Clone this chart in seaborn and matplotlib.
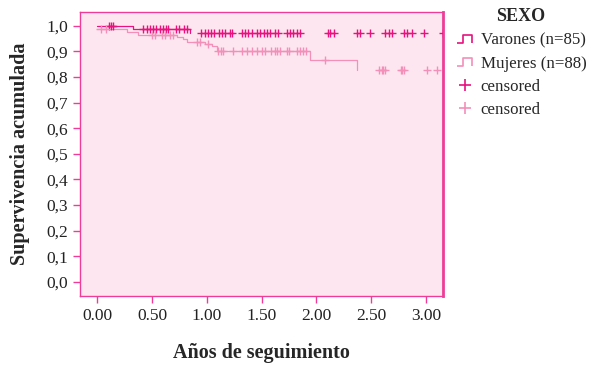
import matplotlib
matplotlib.use("Agg")
import matplotlib.pyplot as plt
from matplotlib.lines import Line2D
from matplotlib.path import Path
import seaborn as sns
import pandas as pd

DARK = "#e8117f"
LIGHT = "#f48fba"
FACE = "#fde6f0"
SPINE = "#ee3d98"

# Kaplan-Meier steps (time in years, cumulative survival)
var_time = [0.00, 0.325, 0.85]
var_surv = [1.000, 0.988, 0.972]
muj_time = [0.00, 0.27, 0.37, 0.73, 0.78, 0.82, 0.98, 1.05, 1.09, 1.94, 2.37]
muj_surv = [0.989, 0.977, 0.965, 0.955, 0.948, 0.938, 0.930, 0.920, 0.900, 0.866, 0.826]

# censored observations
var_cens_time = [0.11, 0.13, 0.145,
                 0.42, 0.45, 0.48, 0.51, 0.54, 0.57, 0.60, 0.63, 0.65, 0.72, 0.75, 0.79, 0.82,
                 0.95, 0.98, 1.01, 1.04, 1.07, 1.11, 1.14, 1.17, 1.21, 1.23, 1.32, 1.35, 1.38,
                 1.41, 1.46, 1.49, 1.52, 1.55, 1.58, 1.62, 1.65, 1.73, 1.76, 1.79, 1.82, 1.85,
                 2.11, 2.13, 2.16, 2.37, 2.40, 2.49, 2.63, 2.66, 2.69, 2.80, 2.83, 2.87, 2.98, 3.16]
var_cens_surv = [1.000] * 3 + [0.988] * 13 + [0.972] * 40
muj_cens_time = [0.03, 0.08,
                 0.50, 0.53, 0.59, 0.62, 0.66, 0.69,
                 0.91, 0.94, 1.01,
                 1.10, 1.13, 1.15, 1.24, 1.32, 1.37, 1.41, 1.46, 1.50, 1.53, 1.59, 1.62, 1.64,
                 1.67, 1.73, 1.75, 1.82, 1.85, 1.88, 1.91,
                 2.08,
                 2.57, 2.60, 2.61, 2.63, 2.77, 2.78, 2.80, 3.01, 3.10]
muj_cens_surv = [0.989] * 2 + [0.965] * 6 + [0.938] * 2 + [0.930] + [0.900] * 20 + [0.866] + [0.826] * 9

y_ticks = [0.0, 0.1, 0.2, 0.3, 0.4, 0.5, 0.6, 0.7, 0.8, 0.9, 1.0]
y_labels = ["0,0", "0,1", "0,2", "0,3", "0,4", "0,5", "0,6", "0,7", "0,8", "0,9", "1,0"]
x_ticks = [0.0, 0.5, 1.0, 1.5, 2.0, 2.5, 3.0]
x_labels = ["0.00", "0.50", "1.00", "1.50", "2.00", "2.50", "3.00"]

sns.set_style("ticks")
plt.rcParams["font.family"] = ["Liberation Serif", "DejaVu Serif"]
plt.rcParams["font.size"] = 12.5

steps = pd.concat([
    pd.DataFrame({"t": var_time, "s": var_surv, "SEXO": "Varones"}),
    pd.DataFrame({"t": muj_time, "s": muj_surv, "SEXO": "Mujeres"}),
])
cens = pd.concat([
    pd.DataFrame({"t": var_cens_time, "s": var_cens_surv, "SEXO": "Varones"}),
    pd.DataFrame({"t": muj_cens_time, "s": muj_cens_surv, "SEXO": "Mujeres"}),
])
pal = {"Varones": DARK, "Mujeres": LIGHT}

fig = plt.figure(figsize=(5.95, 3.66), dpi=100)
ax = fig.add_axes([0.134, 0.191, 0.611, 0.776])
ax.set_facecolor(FACE)

sns.lineplot(data=steps, x="t", y="s", hue="SEXO", palette=pal, estimator=None,
             sort=False, drawstyle="steps-post", linewidth=0.9, legend=False, ax=ax)
sns.scatterplot(data=cens, x="t", y="s", hue="SEXO", palette=pal, marker="+",
                s=34, linewidth=1.0, legend=False, ax=ax, zorder=3)

ax.set_xlim(-0.16, 3.16)
ax.set_ylim(-0.056, 1.0535)
ax.set_xticks(x_ticks)
ax.set_xticklabels(x_labels)
ax.set_yticks(y_ticks)
ax.set_yticklabels(y_labels)
ax.tick_params(colors=SPINE, labelcolor="#222222", length=5, width=1, labelsize=12.5)
for side in ax.spines:
    ax.spines[side].set_color(SPINE)
    ax.spines[side].set_linewidth(1.0)
ax.spines["right"].set_linewidth(2.0)

ax.set_xlabel("Años de seguimiento", fontweight="bold", fontsize=14.5, labelpad=14)
ax.set_ylabel("Supervivencia acumulada", fontweight="bold", fontsize=14.5, labelpad=12)

step_marker = Path([(-1.0, -0.5), (-0.2, -0.5), (-0.2, 0.5), (0.8, 0.5), (0.8, -0.5)])
handles = [
    Line2D([], [], linestyle="none", marker=step_marker, markersize=12,
           markerfacecolor="none", markeredgecolor=DARK, markeredgewidth=1.2),
    Line2D([], [], linestyle="none", marker=step_marker, markersize=12,
           markerfacecolor="none", markeredgecolor=LIGHT, markeredgewidth=1.2),
    Line2D([], [], linestyle="none", marker="+", markersize=8, color=DARK, markeredgewidth=1.2),
    Line2D([], [], linestyle="none", marker="+", markersize=8, color=LIGHT, markeredgewidth=1.2),
]
leg = ax.legend(handles, ["Varones (n=85)", "Mujeres (n=88)", "censored", "censored"],
                title="SEXO", loc="upper left", bbox_to_anchor=(1.0, 1.055), frameon=False,
                fontsize=12.2, handlelength=1.2, handletextpad=0.3, labelspacing=0.42,
                borderaxespad=0.3)
leg.get_title().set_fontweight("bold")
leg.get_title().set_fontsize(13)

fig.savefig("out.png", dpi=100)
